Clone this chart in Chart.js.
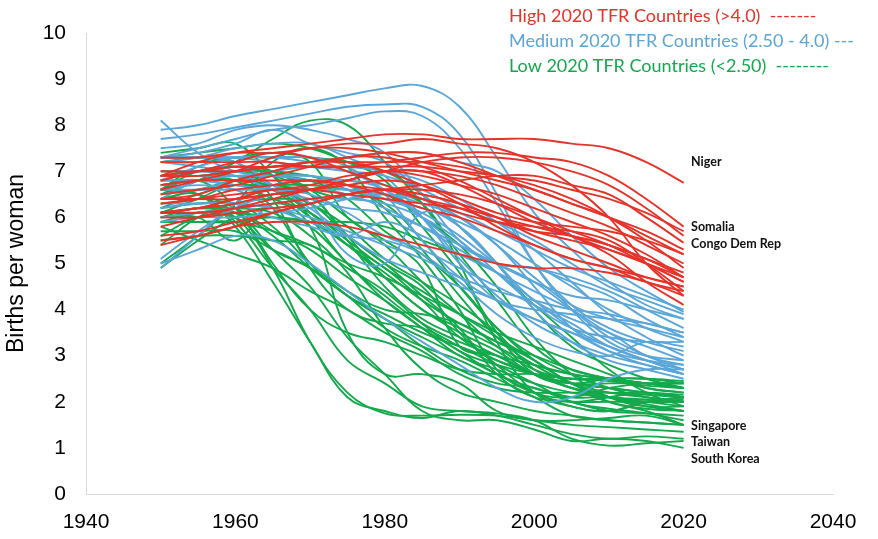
<!DOCTYPE html>
<html><head><meta charset="utf-8">
<script src="https://cdn.jsdelivr.net/npm/chart.js@4"></script>
<style>html,body{margin:0;padding:0;background:#fff}</style>
</head><body>
<canvas id="c" width="878" height="539" style="width:878px;height:539px;display:block"></canvas>
<script>
// ---------- DATA ----------
const years = [1950,1955,1960,1965,1970,1975,1980,1985,1990,1995,2000,2005,2010,2015,2020];
const xTicks = [1940,1960,1980,2000,2020,2040];
const yTicks = [0,1,2,3,4,5,6,7,8,9,10];

// High 2020 TFR countries (>4.0)
const highTFR = [
  [6.9,7.2,7.4,7.5,7.6,7.7,7.8,7.8,7.7,7.7,7.7,7.6,7.5,7.2,6.75],
  [7.2,7.2,7.2,7.2,7.1,7.1,7.2,7.3,7.4,7.4,7.3,7.2,6.9,6.4,5.8],
  [6.0,6.0,6.1,6.2,6.3,6.5,6.6,6.7,6.8,6.9,6.9,6.7,6.5,6.0,5.45],
  [7.0,7.0,7.1,7.1,7.2,7.2,7.2,7.2,7.1,6.9,6.8,6.6,6.4,6.1,5.7],
  [6.1,6.2,6.3,6.5,6.6,6.8,7.0,7.2,7.3,7.3,7.2,7.0,6.7,6.2,5.6],
  [6.6,6.8,7.0,7.3,7.5,7.5,7.4,7.2,7.0,6.8,6.6,6.3,6.0,5.7,5.3],
  [6.9,6.9,7.0,7.1,7.2,7.3,7.4,7.4,7.2,6.9,6.6,6.3,6.0,5.6,5.2],
  [6.9,7.0,7.0,7.1,7.1,7.1,7.1,7.1,7.0,6.9,6.7,6.4,6.0,5.5,4.9],
  [6.4,6.4,6.4,6.5,6.6,6.7,6.8,6.7,6.4,6.1,5.9,5.8,5.7,5.5,5.2],
  [6.7,6.8,6.8,6.8,6.8,6.7,6.6,6.4,6.2,5.9,5.7,5.6,5.4,5.1,4.8],
  [6.1,6.2,6.4,6.6,6.6,6.5,6.4,6.3,6.2,6.0,5.8,5.6,5.4,5.1,4.7],
  [6.1,6.2,6.4,6.5,6.6,6.8,7.0,7.0,6.9,6.7,6.4,6.1,5.8,5.4,5.0],
  [5.6,5.7,5.9,6.1,6.3,6.5,6.6,6.5,6.3,6.0,5.7,5.5,5.3,5.0,4.6],
  [6.3,6.4,6.5,6.6,6.7,6.9,7.0,7.0,6.7,6.3,5.9,5.6,5.3,5.0,4.7],
  [6.1,6.1,6.2,6.3,6.4,6.5,6.6,6.6,6.5,6.3,6.0,5.7,5.4,5.0,4.6],
  [6.8,7.0,7.2,7.4,7.3,7.0,6.7,6.4,6.1,5.9,5.8,5.7,5.5,5.0,4.4],
  [6.4,6.5,6.8,7.0,7.2,7.2,7.0,6.7,6.3,5.8,5.4,5.1,4.9,4.6,4.4],
  [5.4,5.6,5.8,6.1,6.3,6.5,6.6,6.5,6.3,6.0,5.6,5.3,5.0,4.7,4.5],
  [5.5,5.6,5.8,5.9,5.9,5.8,5.6,5.4,5.2,5.0,4.9,4.9,4.8,4.6,4.3],
  [5.8,6.0,6.2,6.4,6.6,6.8,7.0,6.9,6.7,6.5,6.2,5.9,5.6,5.2,4.7],
  [7.3,7.3,7.4,7.4,7.5,7.6,7.6,7.7,7.6,7.5,7.2,6.7,6.0,5.0,4.3],
  [6.3,6.4,6.6,6.7,6.8,6.7,6.5,6.2,6.0,5.7,5.4,5.1,4.9,4.7,4.5],
  [6.5,6.6,6.7,6.9,7.1,7.3,7.3,7.1,6.8,6.4,6.0,5.6,5.2,4.6,4.1]
];

// Medium 2020 TFR countries (2.50 - 4.0)
const mediumTFR = [
  [7.9,8.0,8.2,8.35,8.5,8.65,8.8,8.85,8.4,7.3,6.1,5.3,4.6,4.1,3.8],
  [7.7,7.8,7.95,8.1,8.25,8.4,8.45,8.4,7.8,6.5,5.0,4.0,3.3,3.0,2.9],
  [7.3,7.5,7.7,7.9,8.0,8.15,8.3,8.2,7.5,6.3,5.0,4.1,3.6,3.3,3.1],
  [6.6,6.6,6.6,6.6,6.6,6.6,6.5,6.4,6.0,5.4,4.7,4.1,3.8,3.6,3.4],
  [6.6,6.7,6.6,6.2,5.9,5.6,5.5,5.2,4.6,3.9,3.4,3.1,3.0,3.3,3.2],
  [7.3,7.3,7.2,6.7,6.2,5.6,5.1,4.8,4.5,4.2,3.8,3.5,3.2,2.9,2.6],
  [7.0,7.0,6.9,6.6,6.4,6.2,6.1,5.8,5.4,5.0,4.6,4.0,3.4,3.0,2.7],
  [7.3,7.3,7.3,7.3,7.2,7.0,6.6,6.0,5.4,5.0,4.9,4.7,4.4,4.0,3.6],
  [7.2,7.3,7.5,7.6,7.6,7.3,6.9,6.0,5.0,4.2,3.8,3.5,3.1,2.9,2.8],
  [7.3,7.4,7.6,7.9,7.6,7.4,7.2,6.5,5.8,5.0,4.2,3.8,3.5,3.0,2.8],
  [6.4,6.8,6.9,6.9,6.9,6.7,6.4,6.1,5.6,5.0,4.6,4.3,4.2,4.0,3.8],
  [7.2,7.1,7.0,7.1,7.2,7.3,7.4,7.4,7.2,7.0,6.4,5.6,4.9,4.4,3.95],
  [6.7,6.8,6.9,6.9,6.9,6.8,6.7,6.4,6.1,5.7,5.3,4.9,4.6,4.3,4.0],
  [6.8,7.1,7.3,7.3,7.3,7.1,6.5,5.5,4.7,4.2,4.0,3.9,3.8,3.7,3.5],
  [7.3,7.3,7.3,7.2,7.1,7.0,6.9,6.6,6.2,5.9,5.5,5.0,4.5,4.2,3.9],
  [6.3,6.3,6.3,6.0,5.8,5.6,5.9,5.6,5.2,4.8,4.4,4.0,3.5,3.2,2.9],
  [6.8,6.8,6.7,6.6,6.5,6.1,5.6,5.3,4.9,4.5,4.1,3.7,3.2,2.9,2.7],
  [6.2,6.3,6.3,6.2,6.0,5.7,5.4,5.1,4.7,4.4,4.2,4.0,3.9,3.7,3.5],
  [4.9,5.6,6.3,6.7,6.8,6.8,6.6,6.0,5.1,4.3,3.7,3.3,3.0,2.8,2.6],
  [5.1,5.7,6.2,6.5,6.6,6.5,6.2,5.8,5.3,4.8,4.2,3.6,3.2,2.9,2.7],
  [6.0,6.1,6.2,6.3,6.4,6.4,6.3,6.0,5.5,4.8,4.1,3.6,3.4,3.3,3.3],
  [7.5,7.6,7.9,8.0,7.9,7.7,7.4,6.5,5.5,5.0,4.9,4.6,4.3,3.8,3.4],
  [5.9,6.0,6.0,6.1,6.2,6.4,6.5,6.3,6.0,5.4,4.5,3.6,3.1,2.8,2.6],
  [6.9,6.9,6.9,6.7,6.3,5.2,5.0,6.1,5.8,5.0,4.0,3.3,2.9,2.7,2.5],
  [5.0,5.3,5.6,5.5,5.0,4.4,3.8,3.3,2.8,2.3,2.0,2.1,2.5,2.7,2.7],
  [8.1,7.4,7.0,6.9,6.8,6.6,6.4,6.2,5.9,5.5,5.0,4.5,4.0,3.6,3.3],
  [6.5,6.6,6.8,7.0,7.1,7.1,7.0,6.8,6.4,5.9,5.3,4.6,3.9,3.4,3.0]
];

// Low 2020 TFR countries (<2.50)
const lowTFR = [
  [6.0,6.2,6.0,4.9,3.3,2.2,1.75,1.7,1.72,1.7,1.6,1.5,1.45,1.4,1.35],
  [5.9,6.1,6.1,5.3,4.5,3.4,2.6,1.8,1.6,1.6,1.4,1.15,1.2,1.15,1.0],
  [6.4,6.5,5.9,4.9,4.0,2.9,2.4,1.9,1.8,1.75,1.6,1.2,1.05,1.1,1.15],
  [6.6,6.5,5.8,4.6,3.3,2.1,1.8,1.65,1.8,1.7,1.5,1.3,1.2,1.25,1.2],
  [6.0,6.0,5.5,6.3,5.8,3.5,2.6,2.6,2.4,1.8,1.6,1.6,1.65,1.7,1.5],
  [6.1,6.2,6.2,6.1,5.6,4.8,3.6,2.7,2.2,2.0,1.8,1.7,1.6,1.55,1.5],
  [6.9,7.0,7.0,6.9,6.6,6.4,6.5,6.3,5.0,3.3,2.2,1.9,1.8,2.0,2.1],
  [6.5,6.8,7.2,7.7,8.1,8.0,7.2,6.3,5.2,4.2,3.2,2.7,2.5,2.3,2.2],
  [7.3,7.4,7.5,7.6,7.5,7.2,6.8,5.8,4.8,3.5,2.6,2.4,2.5,2.5,2.4],
  [7.2,7.2,7.3,7.3,7.3,7.2,7.0,6.5,5.8,5.0,4.0,3.2,2.8,2.5,2.3],
  [6.7,6.8,6.8,6.7,6.5,5.5,4.5,3.8,3.4,3.0,2.6,2.4,2.3,2.2,2.1],
  [6.1,6.1,6.1,5.6,4.9,4.3,3.8,3.2,2.7,2.4,2.3,2.0,1.8,1.75,1.7],
  [6.8,6.8,6.8,6.2,5.0,4.3,3.9,3.5,3.2,2.9,2.6,2.3,2.0,1.85,1.8],
  [6.6,7.1,7.2,6.4,4.9,4.0,3.7,3.6,3.2,2.8,2.4,2.0,1.85,1.75,1.6],
  [6.6,6.5,6.2,5.7,5.3,4.7,4.2,3.6,3.0,2.7,2.4,2.2,2.1,2.05,2.0],
  [5.4,6.0,6.3,6.4,6.3,5.6,5.0,4.3,3.6,2.6,2.1,2.0,2.0,2.0,2.05],
  [5.5,5.6,5.6,5.5,5.4,4.9,4.4,3.7,3.1,2.8,2.6,2.5,2.45,2.35,2.3],
  [6.4,6.6,6.8,6.9,6.9,6.6,6.3,5.5,4.5,3.6,3.0,2.6,2.3,2.1,2.0],
  [5.9,5.9,5.9,5.7,5.4,5.0,4.7,4.3,3.9,3.5,3.2,2.9,2.6,2.3,2.2],
  [6.6,7.0,7.1,7.0,6.6,6.0,5.4,4.6,3.9,3.2,2.7,2.5,2.5,2.4,2.4],
  [6.8,7.0,7.1,6.9,6.1,5.6,5.0,4.5,3.5,2.8,2.2,2.0,2.1,2.2,2.1],
  [5.7,5.7,5.7,5.3,4.9,4.3,3.8,3.4,3.0,2.6,2.2,1.9,1.8,2.0,2.1],
  [6.2,6.3,6.3,5.8,5.0,4.4,4.0,3.9,3.7,3.3,2.9,2.4,2.1,1.95,1.8],
  [5.8,5.5,5.2,4.9,4.4,4.0,3.5,3.1,2.6,2.3,2.2,2.2,2.2,2.15,2.1],
  [6.9,6.9,6.9,6.6,6.0,5.4,4.7,4.0,3.6,3.2,2.8,2.6,2.5,2.4,2.3],
  [6.7,6.8,6.7,6.6,6.1,5.4,4.8,4.2,3.7,3.3,3.0,2.7,2.5,2.4,2.3],
  [7.4,7.5,7.6,6.9,6.0,5.0,4.3,3.7,3.3,3.0,2.8,2.6,2.5,2.4,2.3],
  [6.1,6.4,6.7,6.4,6.1,5.5,4.9,4.4,3.9,3.4,2.9,2.4,2.1,2.0,1.9],
  [6.0,6.1,6.1,6.0,5.9,5.4,4.9,4.2,3.4,2.9,2.6,2.3,2.2,2.2,2.15],
  [5.9,5.9,5.9,6.0,5.9,5.9,5.8,5.5,5.2,4.8,4.1,3.4,2.7,2.2,1.9],
  [6.6,6.6,6.7,6.7,6.7,6.6,6.5,6.0,5.4,4.5,3.4,2.6,2.1,1.9,1.9],
  [6.9,6.9,6.9,6.9,6.8,6.4,5.7,5.2,4.5,3.6,2.9,2.4,2.0,1.8,1.5],
  [7.2,7.3,7.3,7.4,7.2,6.0,5.5,4.9,3.2,3.0,2.6,2.4,2.3,2.2,2.1],
  [7.0,7.0,7.1,7.0,6.5,5.6,4.7,4.0,3.5,3.1,2.6,2.3,2.1,1.9,1.8],
  [5.0,5.6,6.3,7.2,7.5,7.1,6.0,5.1,4.0,2.7,2.2,2.1,2.3,2.4,2.4],
  [4.9,5.5,6.0,6.2,5.8,5.0,4.2,3.6,3.1,2.6,2.3,2.1,2.1,2.0,2.0],
  [5.6,6.0,6.0,5.3,4.9,4.3,3.6,3.2,2.9,2.5,2.1,1.7,1.6,1.55,1.5],
  [6.2,6.5,6.7,6.6,6.3,5.8,5.1,4.6,4.1,3.5,2.7,2.4,2.4,2.4,2.4],
  [6.6,6.8,6.2,5.0,4.0,3.5,3.3,3.0,2.7,2.6,2.6,2.5,2.5,2.5,2.45],
  [6.9,6.9,7.0,7.0,6.9,6.7,6.2,5.3,4.3,3.4,2.8,2.4,2.2,2.1,2.0]
];

const legendTexts = ['High 2020 TFR Countries (>4.0)  -------',
                     'Medium 2020 TFR Countries (2.50 - 4.0) ---',
                     'Low 2020 TFR Countries (<2.50)  --------'];
const labelNames  = ['Niger','Somalia','Congo Dem Rep','Singapore','Taiwan','South Korea'];
const labelValues = [7.2, 5.79, 5.42, 1.47, 1.13, 0.76];
const labelYear = 2021.0;

// ---------- STYLE ----------
const RED = '#E5332A', BLUE = '#5AA6D8', GREEN = '#13A94C';

function mk(series, color) {
  return series.map(s => ({
    data: s.map((v, i) => ({x: years[i], y: v})),
    borderColor: color, borderWidth: 1.9, pointRadius: 0, tension: 0.4,
    fill: false
  }));
}
const datasets = [...mk(highTFR, RED), ...mk(mediumTFR, BLUE), ...mk(lowTFR, GREEN)];

const textPlugin = {
  id: 'texts',
  afterDraw(chart) {
    const ctx = chart.ctx, xs = chart.scales.x, ys = chart.scales.y;
    ctx.save();
    ctx.textBaseline = 'middle';
    ctx.textAlign = 'left';
    ctx.font = 'bold 12.5px Lato, "Open Sans", sans-serif';
    ctx.fillStyle = '#111';
    labelNames.forEach((n, i) => {
      ctx.fillText(n, xs.getPixelForValue(labelYear), ys.getPixelForValue(labelValues[i]));
    });
    ctx.font = '18px Lato, "Open Sans", sans-serif';
    const cols = [RED, BLUE, GREEN];
    legendTexts.forEach((t, i) => {
      ctx.fillStyle = cols[i];
      ctx.fillText(t, 509, 16 + i * 25);
    });
    ctx.restore();
  }
};

new Chart(document.getElementById('c'), {
  type: 'line',
  data: { datasets },
  plugins: [textPlugin],
  options: {
    responsive: false, animation: false, devicePixelRatio: 1,
    layout: { padding: { top: 33, right: 45, left: 0, bottom: 0 } },
    plugins: { legend: { display: false }, tooltip: { enabled: false } },
    scales: {
      x: {
        type: 'linear', min: 1940, max: 2040,
        afterBuildTicks: s => { s.ticks = xTicks.map(v => ({value: v})); },
        ticks: { color: '#000', font: { family: '"Liberation Sans", Arial', size: 21 }, padding: 16,
                 callback: v => String(v), maxRotation: 0 },
        grid: { display: false, drawTicks: false },
        border: { display: true, color: '#D9D9D9', width: 1 },
        afterFit: s => { s.height = 45; }
      },
      y: {
        min: 0, max: 10,
        afterBuildTicks: s => { s.ticks = yTicks.map(v => ({value: v})); },
        ticks: { color: '#000', font: { family: '"Liberation Sans", Arial', size: 21 }, padding: 20 },
        grid: { display: false, drawTicks: false },
        border: { display: true, color: '#D9D9D9', width: 1 },
        title: { display: true, text: 'Births per woman', color: '#000',
                 font: { family: '"Liberation Sans", Arial', size: 23 }, padding: { top: 3, bottom: 0 } },
        afterFit: s => { s.width = 86; }
      }
    }
  }
});
</script>
</body></html>
